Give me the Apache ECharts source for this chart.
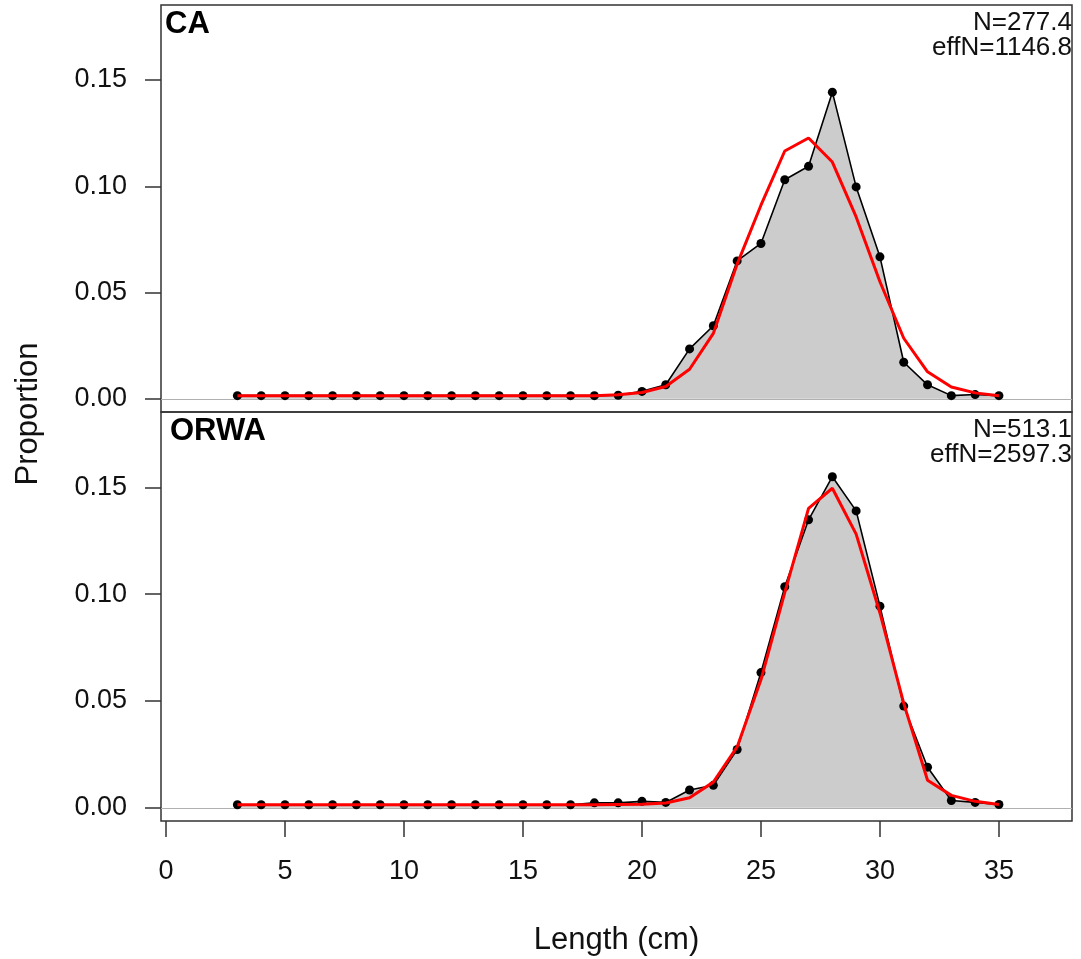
<!DOCTYPE html>
<html>
<head>
<meta charset="utf-8">
<script src="https://cdn.jsdelivr.net/npm/echarts@6/dist/echarts.min.js"></script>
<style>html,body{margin:0;padding:0;background:#fff;}#c{width:1081px;height:959px;}</style>
</head>
<body>
<div id="c"></div>
<script>
const lengthBins = [3,4,5,6,7,8,9,10,11,12,13,14,15,16,17,18,19,20,21,22,23,24,25,26,27,28,29,30,31,32,33,34,35];
const caObs = [0.0015,0.0015,0.0015,0.0015,0.0015,0.0015,0.0015,0.0015,0.0015,0.0015,0.0015,0.0015,0.0015,0.0015,0.0015,0.0015,
  0.0017,0.0035,0.0066,0.0235,0.0344,0.0649,0.0731,0.1031,0.1094,0.1443,0.0997,0.0668,0.0172,0.0066,0.0015,0.002,0.0015];
const caExp = [0.0015,0.0015,0.0015,0.0015,0.0015,0.0015,0.0015,0.0015,0.0015,0.0015,0.0015,0.0015,0.0015,0.0015,0.0015,0.0015,
  0.0019,0.003,0.0058,0.0139,0.0308,0.0634,0.0911,0.1166,0.1227,0.1114,0.0856,0.0551,0.0285,0.0127,0.0056,0.0028,0.0014];
const orwaObs = [0.0014,0.0014,0.0014,0.0014,0.0014,0.0014,0.0014,0.0014,0.0014,0.0014,0.0014,0.0014,0.0014,0.0014,0.0014,0.0023,
  0.0023,0.003,0.0025,0.0083,0.0105,0.0273,0.0633,0.1035,0.1348,0.155,0.139,0.0944,0.0476,0.019,0.0034,0.0025,0.0015];
const orwaExp = [0.0014,0.0014,0.0014,0.0014,0.0014,0.0014,0.0014,0.0014,0.0014,0.0014,0.0014,0.0014,0.0014,0.0014,0.0014,0.0014,
  0.0015,0.0016,0.0022,0.0047,0.012,0.0285,0.0599,0.1007,0.1402,0.1496,0.1281,0.0912,0.0489,0.0129,0.0058,0.003,0.0015];
const panelNames = ['CA','ORWA'];
const panelN = ['N=277.4','N=513.1'];
const panelEffN = ['effN=1146.8','effN=2597.3'];
const xTicks = [0,5,10,15,20,25,30,35];
const yTicks = [0,0.05,0.10,0.15];

const FONT = '"Liberation Sans", Arial, Helvetica, sans-serif';
const pair = (vals) => lengthBins.map((x,i)=>[x, vals[i]]);

const chart = echarts.init(document.getElementById('c'), null, {renderer:'canvas'});

const grids = [
  {left:161, top:5, width:911, height:407},
  {left:161, top:412, width:911, height:409}
];

function xAxis(idx, showLabels){
  return {
    type:'value', gridIndex:idx, min:-0.21, max:38.07, position:'bottom',
    axisLine:{show:false, onZero:false},
    splitLine:{show:false},
    axisTick:{show:showLabels, length:16, customValues:xTicks, lineStyle:{color:'#333', width:1.5}},
    axisLabel:{show:showLabels, customValues:xTicks, margin:37, fontSize:27, color:'#111', fontFamily:FONT},
    name: showLabels ? 'Length (cm)' : '',
    nameLocation:'middle', nameGap:104,
    nameTextStyle:{fontSize:31, color:'#111', fontFamily:FONT}
  };
}
function yAxis(idx){
  return {
    type:'value', gridIndex:idx, min:-0.0062, max:0.1853, position:'left',
    axisLine:{show:false, onZero:false},
    splitLine:{show:false},
    axisTick:{show:true, length:16, customValues:yTicks, lineStyle:{color:'#333', width:1.5}},
    axisLabel:{customValues:yTicks, margin:34, fontSize:27, color:'#111', fontFamily:FONT,
      formatter:(v)=>v.toFixed(2)}
  };
}

const seriesFor = (idx, obs, exp) => [
  {
    type:'line', xAxisIndex:idx, yAxisIndex:idx, data:pair(obs),
    symbol:'circle', symbolSize:9, showSymbol:true,
    itemStyle:{color:'#000'},
    lineStyle:{color:'#000', width:1.6},
    areaStyle:{color:'#cccccc', opacity:1, origin:0},
    z:2, animation:false, silent:true,
    markLine:{silent:true, symbol:['none','none'], label:{show:false},
      lineStyle:{color:'#b0b0b0', width:1, type:'solid'},
      data:[{yAxis:0}], z:1, animation:false}
  },
  {
    type:'line', xAxisIndex:idx, yAxisIndex:idx, data:pair(exp),
    symbol:'none', lineStyle:{color:'#ff0000', width:3},
    z:3, animation:false, silent:true
  }
];

const graphics = [];
[0,1].forEach(i=>{
  const top = grids[i].top;
  graphics.push({type:'text', left: i===0?165:170, top: top+4, silent:true,
    style:{text:panelNames[i], fill:'#000', font:'bold 31px ' + FONT}});
  graphics.push({type:'text', right: 1081-1072, top: top+5, silent:true,
    style:{text:panelN[i], fill:'#111', font:'26px ' + FONT, textAlign:'right'}});
  graphics.push({type:'text', right: 1081-1072, top: top+30, silent:true,
    style:{text:panelEffN[i], fill:'#111', font:'26px ' + FONT, textAlign:'right'}});
});
graphics.push({type:'text', x:28, y:414, rotation:Math.PI/2, silent:true,
  style:{text:'Proportion', fill:'#111', font:'31px ' + FONT, textAlign:'center', textVerticalAlign:'middle'}});

chart.setOption({
  backgroundColor:'#fff',
  animation:false,
  grid: grids.map(g=>Object.assign({show:true, borderColor:'#333', borderWidth:1.5, backgroundColor:'transparent', containLabel:false}, g)),
  xAxis:[xAxis(0,false), xAxis(1,true)],
  yAxis:[yAxis(0), yAxis(1)],
  series:[...seriesFor(0, caObs, caExp), ...seriesFor(1, orwaObs, orwaExp)],
  graphic: graphics
});
</script>
</body>
</html>
